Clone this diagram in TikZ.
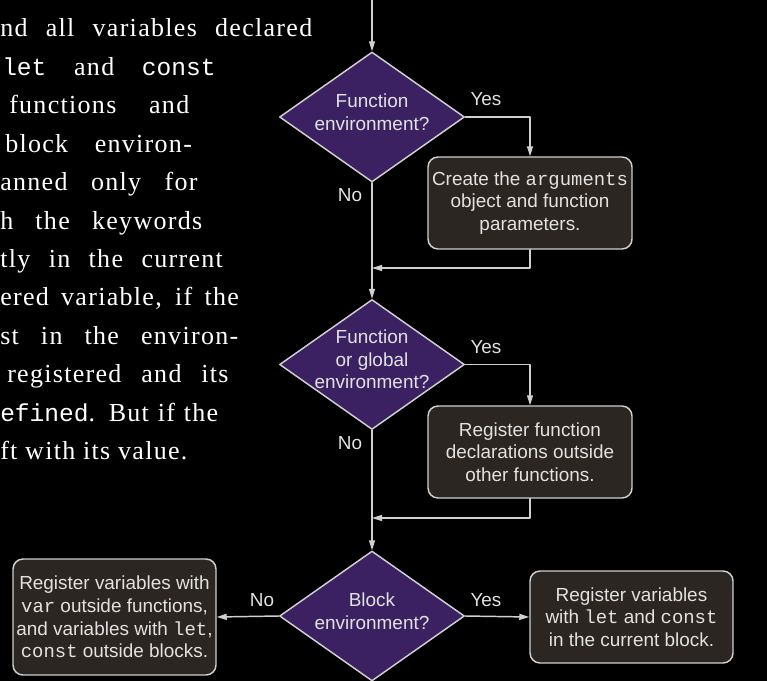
\documentclass[tikz,border=0pt]{standalone}
\usepackage{fontspec}
\setmainfont{Liberation Serif}
\setsansfont{Liberation Sans}
\setmonofont{Liberation Mono}
\newfontfamily\bookfont{Liberation Serif}[LetterSpace=5]
\usetikzlibrary{arrows.meta,shapes.geometric}
\definecolor{linegray}{HTML}{D0D0D0}
\definecolor{textgray}{HTML}{E2E2E2}
\definecolor{decisionpurple}{HTML}{3B2161}
\definecolor{boxbrown}{HTML}{2C2622}
\newcommand{\flowfont}{\sffamily\fontsize{14.2}{16.9}\selectfont}
\newcommand{\booktt}[1]{{\ttfamily\fontsize{18.4}{22}\selectfont #1}}

\begin{document}
\begin{tikzpicture}[x=0.75pt,y=-0.75pt,line cap=round,line join=round,
        flow/.style={draw=linegray,line width=1.1pt,-{Triangle[length=7.5pt,width=4.5pt]}},
        decision/.style={diamond,draw=linegray,line width=1.1pt,fill=decisionpurple,
            inner sep=0pt,minimum width=138.75pt,minimum height=97.5pt},
        dtext/.style={text=textgray,font=\flowfont,align=center,inner sep=0pt},
        stepbox/.style={draw=linegray,line width=1.1pt,fill=boxbrown,rounded corners=7.5pt,
            minimum width=153pt,minimum height=69pt,text=textgray,font=\flowfont,
            align=center,inner sep=1pt},
        answer/.style={text=textgray,font=\flowfont,inner sep=0pt},
        para/.style={text=white,font=\bookfont\fontsize{19.5}{22}\selectfont,anchor=base west,inner sep=0pt}]
        \useasboundingbox (0,0) rectangle (767,681);
        \fill[black] (0,0) rectangle (767,681);

        % the page text beside the figure
        \node[para] (p1) at (0,37) {\makebox[234pt][s]{nd all variables declared}};
        \node[para] (p2) at (2,75.4) {\makebox[160pt][s]{\booktt{let} and \booktt{const}}};
        \node[para] (p3) at (9,113.8) {\makebox[135pt][s]{functions and}};
        \node[para] (p4) at (5,152.2) {\makebox[140pt][s]{block environ-}};
        \node[para] (p5) at (0,190.6) {\makebox[148pt][s]{anned only for}};
        \node[para] (p6) at (0,229) {\makebox[151.5pt][s]{h the keywords}};
        \node[para] (p7) at (0,267.4) {\makebox[167pt][s]{tly in the current}};
        \node[para] (p8) at (0,305.8) {\makebox[179pt][s]{ered variable, if the}};
        \node[para] (p9) at (0,344.2) {\makebox[178.5pt][s]{st in the environ-}};
        \node[para] (p10) at (7,382.6) {\makebox[166pt][s]{registered and its}};
        \node[para] (p11) at (0,421) {\makebox[163.5pt][s]{\booktt{efined}. But if the}};
        \node[para] (p12) at (0,459.4) {ft with its value.};

        % decisions
        \node[decision] (d1) at (372,117) {};
        \node[decision] (d2) at (372,364.5) {};
        \node[decision] (d3) at (372,616) {};
        \node[dtext] (t1) at ([yshift=3.75pt]d1.center) {Function\\environment?};
        \node[dtext] (t2) at ([yshift=3.75pt]d2.center) {Function\\or global\\environment?};
        \node[dtext] (t3) at ([yshift=3.75pt]d3.center) {Block\\environment?};

        % actions
        \node[stepbox] (b1) at (530,203) {Create the \texttt{arguments}\\object and function\\parameters.};
        \node[stepbox] (b2) at (530,452) {Register function\\declarations outside\\other functions.};
        \node[stepbox,minimum width=152.25pt,minimum height=87pt] (b3) at (114.5,617)
            {Register variables with\\\texttt{var} outside functions,\\and variables with \texttt{let},\\\texttt{const} outside blocks.};
        \node[stepbox,minimum width=152.25pt] (b4) at (631.5,617)
            {Register variables\\with \texttt{let} and \texttt{const}\\in the current block.};

        \coordinate (start) at (372,0);
        \coordinate (join1) at (372,268);
        \coordinate (join2) at (372,518);

        \draw[flow] (start) -- (d1.north);
        \draw[flow] (d1.east) -| (b1.north);
        \draw[flow] (b1.south) |- (join1);
        \draw[flow] (d1.south) -- (d2.north);
        \draw[flow] (d2.east) -| (b2.north);
        \draw[flow] (b2.south) |- (join2);
        \draw[flow] (d2.south) -- (d3.north);
        \draw[flow] (d3.west) -- (b3.east);
        \draw[flow] (d3.east) -- (b4.west);

        \node[answer] (y1) at (486,99) {Yes};
        \node[answer] (n1) at (350,195) {No};
        \node[answer] (y2) at (486,347) {Yes};
        \node[answer] (n2) at (350,443) {No};
        \node[answer] (n3) at (262,600) {No};
        \node[answer] (y3) at (486,600) {Yes};
\end{tikzpicture}
\end{document}
